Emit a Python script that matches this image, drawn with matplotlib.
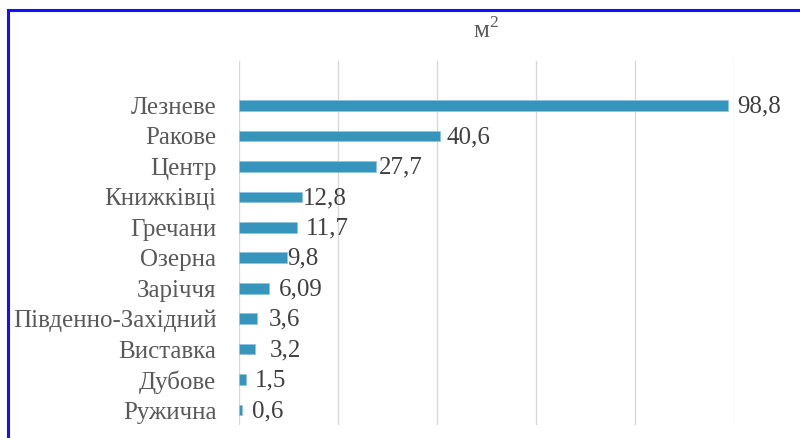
import matplotlib.pyplot as plt
from matplotlib.lines import Line2D

districts = ['Лезневе', 'Ракове', 'Центр', 'Книжківці', 'Гречани', 'Озерна',
             'Заріччя', 'Південно-Західний', 'Виставка', 'Дубове', 'Ружична']
area = [98.8, 40.6, 27.7, 12.8, 11.7, 9.8, 6.09, 3.6, 3.2, 1.5, 0.6]
area_labels = ['98,8', '40,6', '27,7', '12,8', '11,7', '9,8', '6,09', '3,6', '3,2', '1,5', '0,6']

# how far each value label sits right of its bar, in points
label_pad = [6.5, 5, 2, 0.7, 6.5, 0, 7, 8.6, 10.8, 6.5, 7.2]

plt.rcParams['font.family'] = ['Liberation Serif', 'DejaVu Serif']
plt.rcParams['mathtext.fontset'] = 'custom'
plt.rcParams['mathtext.rm'] = 'Liberation Serif'

W, H = 800, 438
fig = plt.figure(figsize=(W / 100, H / 100), dpi=100)
ax = fig.add_axes([238.7 / W, 1 - 425 / H, (733.7 - 238.7) / W, (425 - 60.7) / H])

pos = list(range(len(districts)))
ax.barh(pos, area, height=0.35, color='#3595bd', edgecolor='#8cc6df', linewidth=0.5, zorder=3)

for i, (v, txt) in enumerate(zip(area, area_labels)):
    ax.annotate(txt, (v, i), xytext=(label_pad[i], -0.8), textcoords='offset points',
                va='center', ha='left', fontsize=18, color='#404040')

ax.set_xlim(0, 100)
ax.set_ylim(10.49, -1.47)
ax.set_xticks(range(0, 101, 20))
ax.set_xticklabels([])
ax.set_yticks(pos)
ax.set_yticklabels(districts, fontsize=18, color='#595959')
ax.tick_params(length=0, pad=16)
ax.grid(axis='x', color='#d9d9d9', linewidth=1, zorder=0)
for s in ax.spines.values():
    s.set_visible(False)

fig.text(486 / W, 1 - 30 / H, r'м$^{\mathrm{2}}$', ha='center', va='center', fontsize=18, color='#595959')

# blue frame along the top and left edges
fig.add_artist(Line2D([8 / W, 1], [1 - 10 / H, 1 - 10 / H], color='#1a0dff', linewidth=2.2))
fig.add_artist(Line2D([8 / W, 8 / W], [0, 1 - 10 / H], color='#1a0dff', linewidth=2.2))

fig.savefig('out.png', dpi=100)
